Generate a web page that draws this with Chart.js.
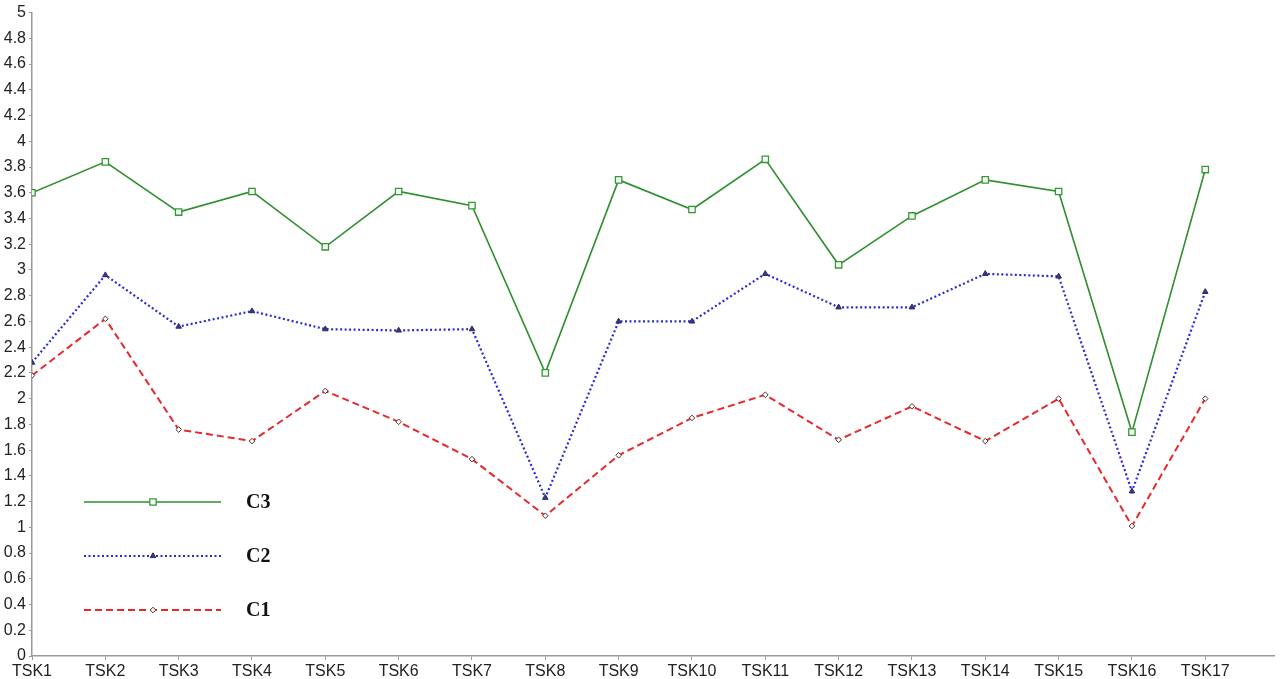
<!DOCTYPE html>
<html>
<head>
<meta charset="utf-8">
<script src="https://cdn.jsdelivr.net/npm/chart.js@4.4.1/dist/chart.umd.min.js"></script>
<style>
  html, body { margin: 0; padding: 0; background: #fff; }
  #wrap { width: 1280px; height: 679px; }
</style>
</head>
<body>
<div id="wrap"><canvas id="chart" width="1280" height="679"></canvas></div>
<script>
// values
const tasks = ['TSK1', 'TSK2', 'TSK3', 'TSK4', 'TSK5', 'TSK6', 'TSK7', 'TSK8', 'TSK9',
               'TSK10', 'TSK11', 'TSK12', 'TSK13', 'TSK14', 'TSK15', 'TSK16', 'TSK17'];
const c3 = [3.60, 3.84, 3.45, 3.61, 3.18, 3.61, 3.50, 2.20, 3.70, 3.47, 3.86, 3.04, 3.42, 3.70, 3.61, 1.74, 3.78];
const c2 = [2.28, 2.96, 2.56, 2.68, 2.54, 2.53, 2.54, 1.23, 2.60, 2.60, 2.97, 2.71, 2.71, 2.97, 2.95, 1.28, 2.83];
const c1 = [2.18, 2.62, 1.76, 1.67, 2.06, 1.82, 1.53, 1.09, 1.56, 1.85, 2.03, 1.68, 1.94, 1.67, 2.00, 1.01, 2.00];
const seriesNames = ['C1', 'C2', 'C3'];

const toPoints = (arr) => arr.map((v, i) => ({ x: i + 1, y: v }));

function drawMarker(ctx, style, r, x, y) {
    if (style === 'rect') {
        const s = r * Math.SQRT1_2;
        ctx.rect(x - s, y - s, 2 * s, 2 * s);
    } else if (style === 'triangle') {
        ctx.moveTo(x, y - r);
        ctx.lineTo(x + r * 0.866, y + r * 0.5);
        ctx.lineTo(x - r * 0.866, y + r * 0.5);
        ctx.closePath();
    } else {
        ctx.moveTo(x, y - r);
        ctx.lineTo(x + r, y);
        ctx.lineTo(x, y + r);
        ctx.lineTo(x - r, y);
        ctx.closePath();
    }
}

// draws the legend inside the plot, like the original figure
const insideLegend = {
    id: 'insideLegend',
    afterDraw(chart) {
        const ctx = chart.ctx;
        const rows = [2, 1, 0]; // C3 on top
        rows.forEach((dsIndex, r) => {
            const ds = chart.data.datasets[dsIndex];
            const y = 502 + r * 54;
            ctx.save();
            ctx.strokeStyle = ds.borderColor;
            ctx.lineWidth = ds.borderWidth;
            ctx.setLineDash(ds.borderDash || []);
            ctx.beginPath();
            ctx.moveTo(84, y);
            ctx.lineTo(221, y);
            ctx.stroke();
            ctx.setLineDash([]);
            ctx.fillStyle = ds.pointBackgroundColor;
            ctx.strokeStyle = ds.pointBorderColor;
            ctx.lineWidth = ds.pointBorderWidth;
            ctx.beginPath();
            drawMarker(ctx, ds.pointStyle, ds.pointRadius, 153, y);
            ctx.fill();
            ctx.stroke();
            ctx.fillStyle = '#111';
            ctx.font = 'bold 20px "Liberation Serif", "Times New Roman", serif';
            ctx.textBaseline = 'middle';
            ctx.fillText(ds.label, 246, y + 1);
            ctx.restore();
        });
    }
};

const axisColor = '#9a9a9a';
const tickFont = { family: '"Liberation Sans", Arial, sans-serif', size: 16 };

new Chart(document.getElementById('chart'), {
    type: 'line',
    data: {
        datasets: [
            {
                label: seriesNames[0],
                data: toPoints(c1),
                borderColor: '#e8282a',
                borderWidth: 2,
                borderDash: [7, 4],
                pointStyle: 'rectRot',
                pointRadius: 2.8,
                pointBorderWidth: 1,
                pointBorderColor: '#5a2a2a',
                pointBackgroundColor: '#ffffff'
            },
            {
                label: seriesNames[1],
                data: toPoints(c2),
                borderColor: '#2b2bd6',
                borderWidth: 2.2,
                borderDash: [2, 2.5],
                pointStyle: 'triangle',
                pointRadius: 3.2,
                pointBorderWidth: 1,
                pointBorderColor: '#2a2a60',
                pointBackgroundColor: '#3a3a80'
            },
            {
                label: seriesNames[2],
                data: toPoints(c3),
                borderColor: '#2f8f2f',
                borderWidth: 1.6,
                pointStyle: 'rect',
                pointRadius: 4.5,
                pointBorderWidth: 1.3,
                pointBorderColor: '#2f9a2f',
                pointBackgroundColor: '#ffffff'
            }
        ]
    },
    options: {
        responsive: false,
        animation: false,
        layout: { padding: { top: 9.5, right: 3, left: 0, bottom: 0 } },
        plugins: {
            legend: { display: false },
            tooltip: { enabled: false }
        },
        scales: {
            x: {
                type: 'linear',
                min: 1,
                max: 17.94,
                border: { display: true, color: axisColor, width: 1.5 },
                grid: { drawOnChartArea: false, drawTicks: true, tickLength: 4, color: axisColor },
                ticks: {
                    stepSize: 1,
                    includeBounds: false,
                    autoSkip: false,
                    maxRotation: 0,
                    padding: 2,
                    color: '#222',
                    font: tickFont,
                    callback: (v) => tasks[v - 1] || ''
                },
                afterFit: (scale) => { scale.height = 23; }
            },
            y: {
                min: 0,
                max: 5,
                border: { display: true, color: axisColor, width: 1.5 },
                grid: { drawOnChartArea: false, drawTicks: true, tickLength: 3, color: axisColor },
                ticks: {
                    stepSize: 0.2,
                    autoSkip: false,
                    padding: 3,
                    color: '#222',
                    font: tickFont,
                    callback: (v) => String(Math.round(v * 10) / 10)
                },
                afterFit: (scale) => { scale.width = 32; }
            }
        }
    },
    plugins: [insideLegend]
});
</script>
</body>
</html>
